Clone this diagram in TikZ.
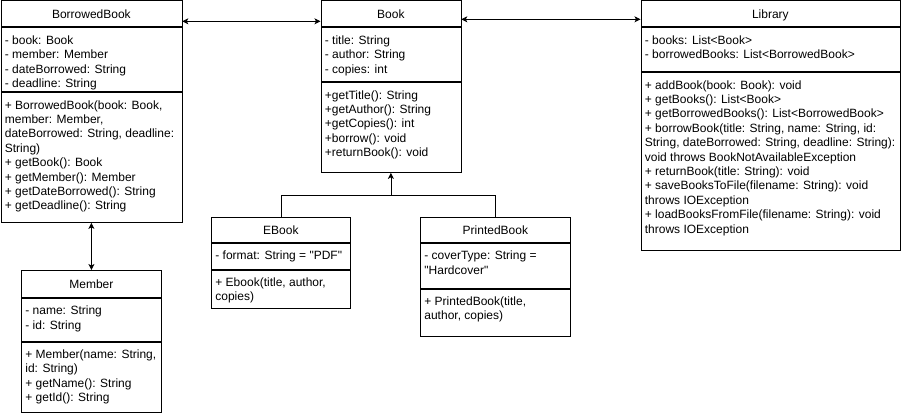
\documentclass[tikz,border=0pt]{standalone}
\usepackage{fontspec}
\setmainfont{Liberation Sans}[Ligatures=TeXOff]
\usetikzlibrary{arrows.meta,positioning}

\newcommand{\partbox}[3]{\parbox[t][#2][t]{#1}{\raggedright\strut#3}}

\tikzset{
  umlhead/.style={draw, anchor=north west, inner sep=0pt,
    text height=8.6pt, text depth=0pt},
  umlpart/.style={draw, anchor=north west, inner xsep=4pt, inner ysep=6.5pt},
  assoc/.style={<->},
  inherit/.style={->}
}

\begin{document}
\begin{tikzpicture}[x=1pt, y=-1pt, line width=0.8pt,
    font=\fontsize{12}{14.4}\selectfont,
    >={Stealth[length=6pt,width=6pt,inset=1.5pt]}]
  \useasboundingbox (0,0) rectangle (902,414);

  % BorrowedBook
  \node[umlhead, minimum width=181pt, minimum height=26pt] (bbHead) at (0.5,0.5) {BorrowedBook};
  \node[umlpart] (bbAttr) at (bbHead.south west)
    {\partbox{173pt}{51pt}{- book: Book\\- member: Member\\- dateBorrowed: String\\- deadline: String}};
  \node[umlpart] (bbMeth) at (bbAttr.south west)
    {\partbox{173pt}{117pt}{+ BorrowedBook(book: Book,\\member: Member,\\dateBorrowed: String, deadline:\\String)\\+ getBook(): Book\\+ getMember(): Member\\+ getDateBorrowed(): String\\+ getDeadline(): String}};

  % Book
  \node[umlhead, minimum width=140pt, minimum height=26pt] (bookHead) at (320.5,0.5) {Book};
  \node[umlpart] (bookAttr) at (bookHead.south west)
    {\partbox{132pt}{41pt}{- title: String\\- author: String\\- copies: int}};
  \node[umlpart] (bookMeth) at (bookAttr.south west)
    {\partbox{132pt}{77pt}{+getTitle(): String\\+getAuthor(): String\\+getCopies(): int\\+borrow(): void\\+returnBook(): void}};

  % Library
  \node[umlhead, minimum width=259pt, minimum height=26pt] (libHead) at (640.5,0.5) {Library};
  \node[umlpart] (libAttr) at (libHead.south west)
    {\partbox{251pt}{31pt}{- books: List<Book>\\- borrowedBooks: List<BorrowedBook>}};
  \node[umlpart] (libMeth) at (libAttr.south west)
    {\partbox{251pt}{165pt}{+ addBook(book: Book): void\\+ getBooks(): List<Book>\\+ getBorrowedBooks(): List<BorrowedBook>\\+ borrowBook(title: String, name: String, id:\\String, dateBorrowed: String, deadline: String):\\void throws BookNotAvailableException\\+ returnBook(title: String): void\\+ saveBooksToFile(filename: String): void\\throws IOException\\+ loadBooksFromFile(filename: String): void\\throws IOException}};

  % EBook
  \node[umlhead, minimum width=139pt, minimum height=25pt] (ebookHead) at (211,217) {EBook};
  \node[umlpart] (ebookAttr) at (ebookHead.south west)
    {\partbox{131pt}{13pt}{- format: String = "PDF"}};
  \node[umlpart] (ebookMeth) at (ebookAttr.south west)
    {\partbox{131pt}{25pt}{+ Ebook(title, author,\\copies)}};

  % PrintedBook
  \node[umlhead, minimum width=150pt, minimum height=25pt] (printHead) at (420,217) {PrintedBook};
  \node[umlpart] (printAttr) at (printHead.south west)
    {\partbox{142pt}{32pt}{- coverType: String =\\"Hardcover"}};
  \node[umlpart] (printMeth) at (printAttr.south west)
    {\partbox{142pt}{34pt}{+ PrintedBook(title,\\author, copies)}};

  % Member
  \node[umlhead, minimum width=140pt, minimum height=27pt] (memberHead) at (21,270) {Member};
  \node[umlpart] (memberAttr) at (memberHead.south west)
    {\partbox{132pt}{30pt}{- name: String\\- id: String}};
  \node[umlpart] (memberMeth) at (memberAttr.south west)
    {\partbox{132pt}{57pt}{+ Member(name: String,\\id: String)\\+ getName(): String\\+ getId(): String}};

  % Associations
  \draw[assoc] ([yshift=6pt]bbHead.south east) -- ([yshift=6pt]bookHead.south west);
  \draw[assoc] ([yshift=8pt]bookHead.south east) -- ([yshift=8pt]libHead.south west);
  \draw[assoc] (bbMeth.south) -- (bbMeth.south |- memberHead.north);

  % Inheritance
  \coordinate (split) at ([yshift=-23pt]bookMeth.south);
  \draw (ebookHead.north) |- (split) -| (printHead.north);
  \draw[inherit] (split) -- (bookMeth.south);
\end{tikzpicture}
\end{document}
